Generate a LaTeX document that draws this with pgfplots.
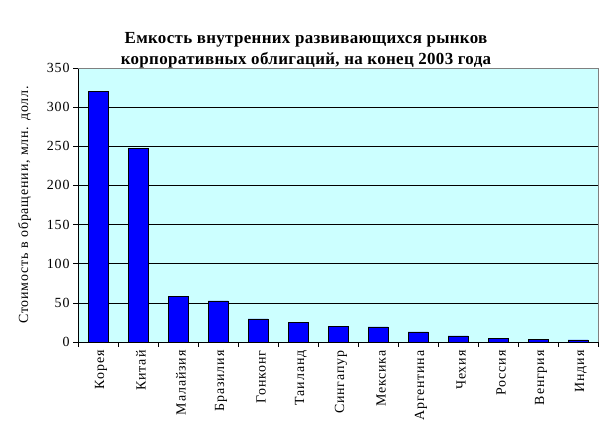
\documentclass[border=0pt]{standalone}
\usepackage{pgfplots}
\pgfplotsset{compat=1.18}
\usepackage{fontspec}
\setmainfont{Liberation Serif}
\newfontfamily\widefont[LetterSpace=6]{Liberation Serif}
\newfontfamily\titlefont[LetterSpace=2]{Liberation Serif}
\definecolor{bgcyan}{HTML}{CCFFFF}
\definecolor{barblue}{HTML}{0000FF}
\begin{document}
\begin{tikzpicture}[x=1bp,y=1bp]
\useasboundingbox (0,0) rectangle (612,443);
\node[font=\titlefont\bfseries\fontsize{17}{21}\selectfont, align=center] at (306,393) {Емкость внутренних развивающихся рынков\\корпоративных облигаций, на конец 2003 года};
\begin{axis}[
  at={(78bp,101bp)}, anchor=south west,
  width=520bp, height=274bp, scale only axis,
  xmin=-0.5, xmax=12.5, ymin=0, ymax=350,
  axis background/.style={fill=bgcyan},
  axis x line*=bottom, axis y line*=left,
  axis line style={black, line width=0.8pt},
  xtick={0,...,12},
  xticklabels={Корея,Китай,Малайзия,Бразилия,Гонконг,Таиланд,Сингапур,Мексика,Аргентина,Чехия,Россия,Венгрия,Индия},
  x tick label style={rotate=90, anchor=east, font=\widefont\fontsize{14}{16}\selectfont, yshift=-3bp},
  major x tick style={draw=none},
  minor xtick={-0.5,0.5,...,12.5},
  minor tick length=5bp,
  tick align=outside,
  ytick={0,50,...,300},
  extra y ticks={350},
  extra y tick style={grid=none},
  major tick length=5bp,
  ymajorgrids,
  grid style={black, line width=0.6pt},
  y tick label style={font=\widefont\fontsize{14}{16}\selectfont},
  /pgf/number format/assume math mode=true,
  ylabel={Стоимость в обращении, млн. долл.},
  ylabel style={font=\widefont\fontsize{14}{16}\selectfont, yshift=-1bp},
  xtick pos=bottom, ytick pos=left,
  tick style={black, line width=0.6pt},
  clip=false,
]
\draw[gray, line width=0.8pt] (axis cs:-0.5,350) -- (axis cs:12.5,350) -- (axis cs:12.5,0);
\addplot[ybar, bar width=20bp, fill=barblue, draw=black, line width=0.7pt] coordinates {
(0,320.6) (1,247.6) (2,58.1) (3,52.4) (4,29.4) (5,25.5) (6,20.4) (7,19.2) (8,12.8) (9,7.7) (10,5.1) (11,3.8) (12,2.6)
};
\end{axis}
\end{tikzpicture}
\end{document}
